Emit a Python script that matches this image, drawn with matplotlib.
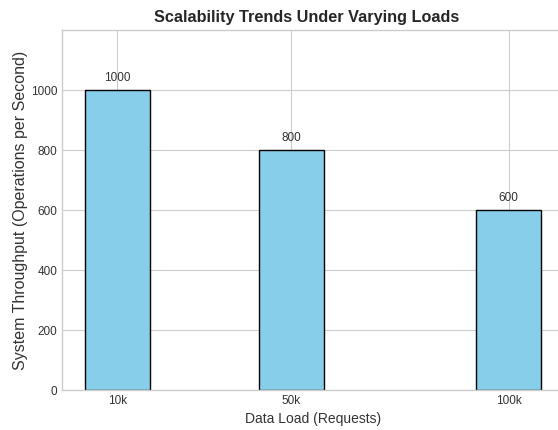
import numpy as np
import matplotlib.pyplot as plt

# data
loads = [10, 50, 100]            # thousands of requests
load_labels = ['10k', '50k', '100k']
throughput = [1000, 800, 600]

plt.style.use('seaborn-v0_8-whitegrid')
plt.rcParams['font.family'] = ['Liberation Sans', 'DejaVu Sans']

fig = plt.figure(figsize=(5.58, 4.30), dpi=100)
ax = fig.add_axes([0.111, 0.093, 0.90, 0.837])

bars = ax.bar(loads, throughput, width=15, color='skyblue', edgecolor='black', linewidth=1)
for x, h in zip(loads, throughput):
    ax.text(x, h + 20, str(h), ha='center', va='bottom', fontsize=8.5, color='#333333')

ax.set_xticks(loads)
ax.set_xticklabels(load_labels)
ax.set_ylim(0, 1200)
ax.set_yticks([0, 200, 400, 600, 800, 1000])
ax.tick_params(labelsize=8.5, colors='#333333')
ax.set_xlabel('Data Load (Requests)', fontsize=10, color='#333333')
ax.set_ylabel('System Throughput (Operations per Second)', fontsize=11.5, color='#333333', labelpad=2)
ax.set_title('Scalability Trends Under Varying Loads', fontsize=11.7, fontweight='bold',
             color='#262626', x=0.487)

fig.savefig('out.png', dpi=100)
